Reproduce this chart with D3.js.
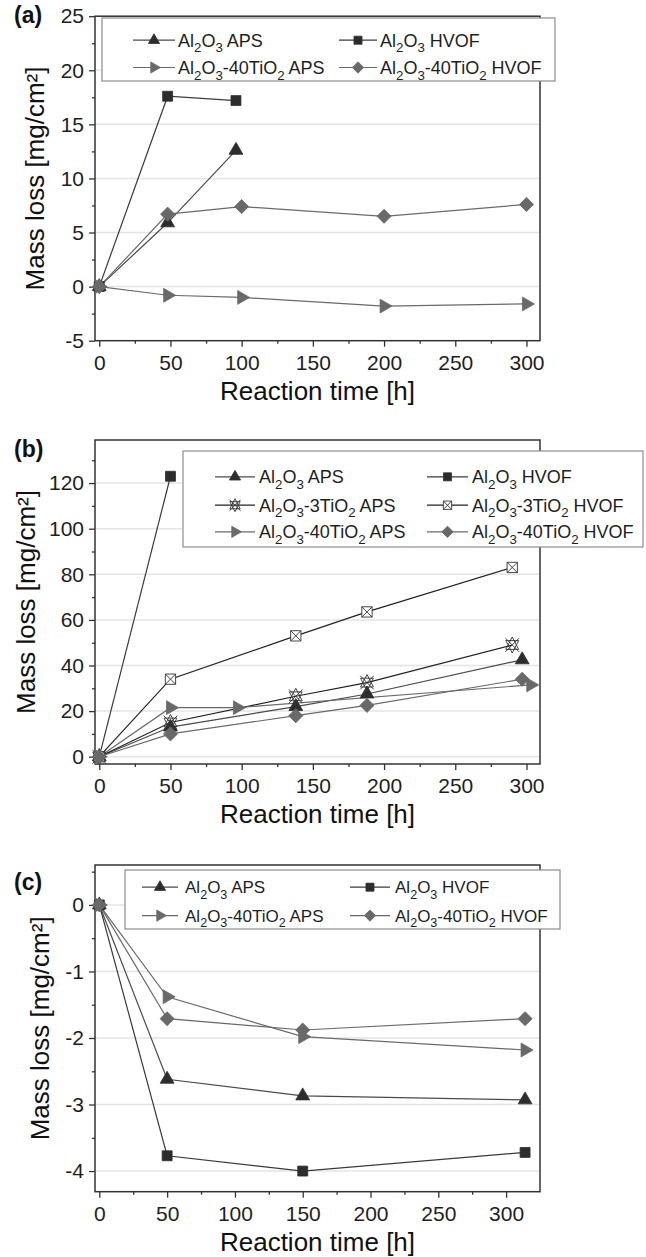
<!DOCTYPE html>
<html>
<head>
<meta charset="utf-8">
<script src="https://cdn.jsdelivr.net/npm/d3@7"></script>
<style>
  body { margin: 0; background: #fff; }
  svg text { font-family: "Liberation Sans", Arial, sans-serif; }
</style>
</head>
<body>
<svg id="chart" width="646" height="1257"></svg>
<script>
// ---- data: panel (a) ----
const timeA_Al2O3 = [0, 48, 96];
const massA_Al2O3_APS = [0, 5.9, 12.6];
const massA_Al2O3_HVOF = [0, 17.6, 17.2];
const timeA_40TiO2 = [0, 48, 100, 200, 300];
const massA_40TiO2_APS = [0, -0.8, -1.0, -1.8, -1.6];
const massA_40TiO2_HVOF = [0, 6.7, 7.4, 6.5, 7.6];

// ---- data: panel (b) ----
const timeB_Al2O3_APS = [0, 50, 138, 188, 297];
const massB_Al2O3_APS = [0, 13, 22, 27.5, 42.5];
const timeB_Al2O3_HVOF = [0, 50];
const massB_Al2O3_HVOF = [0, 123];
const timeB_3TiO2 = [0, 50, 138, 188, 290];
const massB_3TiO2_APS = [0, 15, 26.5, 32.5, 49];
const massB_3TiO2_HVOF = [0, 34, 53, 63.5, 83];
const timeB_40TiO2_APS = [0, 50, 97, 303];
const massB_40TiO2_APS = [0, 21.5, 21.5, 31.5];
const timeB_40TiO2_HVOF = [0, 50, 138, 188, 297];
const massB_40TiO2_HVOF = [0, 10, 18, 22.5, 34];

// ---- data: panel (c) ----
const timeC = [0, 50, 150, 314];
const massC_Al2O3_APS = [0, -2.62, -2.87, -2.93];
const massC_Al2O3_HVOF = [0, -3.77, -4.0, -3.72];
const massC_40TiO2_APS = [0, -1.38, -1.98, -2.18];
const massC_40TiO2_HVOF = [0, -1.71, -1.88, -1.71];

// tick values
const xTicks = [0, 50, 100, 150, 200, 250, 300];
const xMinor = [25, 75, 125, 175, 225, 275];
const yTicksA = [-5, 0, 5, 10, 15, 20, 25];
const yMinorA = [-2.5, 2.5, 7.5, 12.5, 17.5, 22.5];
const yTicksB = [0, 20, 40, 60, 80, 100, 120];
const yMinorB = [10, 30, 50, 70, 90, 110, 130];
const yTicksC = [-4, -3, -2, -1, 0];
const yMinorC = [-3.5, -2.5, -1.5, -0.5, 0.5];

const names = {
  aps: 'Al_2O_3 APS',
  hvof: 'Al_2O_3 HVOF',
  ti3aps: 'Al_2O_3-3TiO_2 APS',
  ti3hvof: 'Al_2O_3-3TiO_2 HVOF',
  ti40aps: 'Al_2O_3-40TiO_2 APS',
  ti40hvof: 'Al_2O_3-40TiO_2 HVOF'
};

const dark = '#2d2d2d', grey = '#696969';
const style = {
  aps:      { marker: 'tri',     fill: dark, line: '#4a4a4a' },
  hvof:     { marker: 'square',  fill: dark, line: '#3a3a3a' },
  ti3aps:   { marker: 'xstar',   fill: 'none', line: '#222' },
  ti3hvof:  { marker: 'xsquare', fill: '#fff', line: '#222' },
  ti40aps:  { marker: 'rtri',    fill: grey, line: '#6a6a6a' },
  ti40hvof: { marker: 'diamond', fill: grey, line: '#6a6a6a' }
};

const svg = d3.select('#chart');
const left = 95, right = 540;

function markerPath(type, k) {
  if (type === 'tri') return d3.symbol(d3.symbolTriangle, 72 * k)();
  if (type === 'rtri') return d3.symbol(d3.symbolTriangle, 72 * k)();
  if (type === 'square') return d3.symbol(d3.symbolSquare, 86 * k)();
  if (type === 'diamond') return d3.symbol(d3.symbolSquare, 86 * k)();
  const s = Math.sqrt(k);
  if (type === 'xsquare') {
    const h = 4.8 * s;
    return `M${-h},${-h}H${h}V${h}H${-h}Z M${-h},${-h}L${h},${h} M${h},${-h}L${-h},${h}`;
  }
  // xstar: cross with hollow up/down triangles
  const r = 7.5 * s;
  return `M${-r * 0.85},${-r * 0.85}L${r * 0.85},${r * 0.85}M${r * 0.85},${-r * 0.85}L${-r * 0.85},${r * 0.85}` +
    `M0,${-r}L${r * 0.8},${r * 0.55}L${-r * 0.8},${r * 0.55}Z M0,${r}L${r * 0.8},${-r * 0.55}L${-r * 0.8},${-r * 0.55}Z`;
}

function drawMarker(g, key, cx, cy, k) {
  const st = style[key];
  const rot = st.marker === 'rtri' ? 90 : st.marker === 'diamond' ? 45 : 0;
  const hollow = st.marker === 'xstar' || st.marker === 'xsquare';
  g.append('path')
    .attr('d', markerPath(st.marker, k))
    .attr('transform', `translate(${cx},${cy}) rotate(${rot})`)
    .attr('fill', st.fill)
    .attr('stroke', hollow ? '#333' : st.fill)
    .attr('stroke-width', hollow ? 0.9 : 0.8);
}

function richText(sel, label, fs) {
  const shift = fs * 0.32;
  let pending = 0;
  label.split(/(_\d)/).filter(s => s.length).forEach(part => {
    if (part[0] === '_') {
      sel.append('tspan').attr('font-size', fs * 0.74).attr('dy', shift - pending).text(part.slice(1));
      pending = shift;
    } else {
      sel.append('tspan').attr('dy', -pending || null).text(part);
      pending = 0;
    }
  });
}

function drawPanel(p) {
  const x = d3.scaleLinear().domain(p.xDomain).range([left, right]);
  const y = d3.scaleLinear().domain(p.yDomain).range([p.bottom, p.top]);
  const g = svg.append('g');

  // horizontal grid
  g.selectAll('.grid')
    .data(p.yTicks.filter(v => y(v) > p.top + 2 && y(v) < p.bottom - 2))
    .enter().append('line')
    .attr('x1', left).attr('x2', right)
    .attr('y1', d => y(d)).attr('y2', d => y(d))
    .attr('stroke', '#e4e4e4').attr('stroke-width', 1.5);

  // axes
  const yAxis = g.append('g').attr('transform', `translate(${left},0)`)
    .call(d3.axisLeft(y).tickValues(p.yTicks).tickSize(6).tickPadding(5).tickFormat(d => String(d)));
  const yMinorAxis = g.append('g').attr('transform', `translate(${left},0)`)
    .call(d3.axisLeft(y).tickValues(p.yMinor).tickSize(3).tickFormat(''));
  const xAxis = g.append('g').attr('transform', `translate(0,${p.bottom})`)
    .call(d3.axisBottom(x).tickValues(xTicks).tickSize(6).tickPadding(8).tickFormat(d => String(d)));
  const xMinorAxis = g.append('g').attr('transform', `translate(0,${p.bottom})`)
    .call(d3.axisBottom(x).tickValues(xMinor).tickSize(3).tickFormat(''));
  [yAxis, yMinorAxis, xAxis, xMinorAxis].forEach(a => {
    a.select('.domain').remove();
    a.selectAll('line').attr('stroke', '#333').attr('stroke-width', 1.3);
    a.selectAll('text').attr('font-size', 21).attr('fill', '#1e1e1e')
      .style('font-family', '"Liberation Sans", Arial, sans-serif');
  });

  // frame
  g.append('rect')
    .attr('x', left).attr('y', p.top)
    .attr('width', right - left).attr('height', p.bottom - p.top)
    .attr('fill', 'none').attr('stroke', '#333').attr('stroke-width', 1.5);

  // series
  const line = d3.line().x(d => x(d[0])).y(d => y(d[1]));
  p.series.forEach(s => {
    g.append('path')
      .datum(d3.zip(s.t, s.v))
      .attr('d', line)
      .attr('fill', 'none')
      .attr('stroke', style[s.key].line)
      .attr('stroke-width', 1.2);
  });
  p.series.forEach(s => {
    s.t.forEach((t, i) => drawMarker(g, s.key, x(t), y(s.v[i]), 1.15));
  });

  // legend
  const L = p.legend;
  g.append('rect')
    .attr('x', L.x0).attr('y', L.y0)
    .attr('width', L.x1 - L.x0).attr('height', L.y1 - L.y0)
    .attr('fill', '#fff').attr('stroke', '#8c8c8c').attr('stroke-width', 1.2);
  p.series.forEach((s, i) => {
    const col = L.cols[i % 2];
    const base = L.rows[Math.floor(i / 2)];
    const my = base - L.fs * 0.36;
    g.append('line')
      .attr('x1', col[0]).attr('x2', col[1]).attr('y1', my).attr('y2', my)
      .attr('stroke', style[s.key].line).attr('stroke-width', 1.2);
    drawMarker(g, s.key, (col[0] + col[1]) / 2, my, 0.75);
    const txt = g.append('text')
      .attr('x', col[2]).attr('y', base)
      .attr('font-size', L.fs).attr('fill', '#1e1e1e');
    richText(txt, names[s.key], L.fs);
  });

  // titles
  g.append('text')
    .attr('x', (left + right) / 2).attr('y', p.bottom + 59)
    .attr('text-anchor', 'middle').attr('font-size', 26).attr('fill', '#111')
    .text('Reaction time [h]');
  g.append('text')
    .attr('transform', `translate(${p.yTitleX},${(p.top + p.bottom) / 2}) rotate(-90)`)
    .attr('text-anchor', 'middle').attr('font-size', 26).attr('fill', '#111')
    .text('Mass loss [mg/cm²]');
  g.append('text')
    .attr('x', 14).attr('y', p.labelY)
    .attr('font-size', 23).attr('font-weight', 'bold').attr('fill', '#111')
    .text(p.label);
}

drawPanel({
  label: '(a)', labelY: 23,
  top: 16.2, bottom: 340.7,
  xDomain: [-3, 309.5], yDomain: [-5, 25],
  yTicks: yTicksA, yMinor: yMinorA, yTitleX: 43.5,
  series: [
    { key: 'aps', t: timeA_Al2O3, v: massA_Al2O3_APS },
    { key: 'hvof', t: timeA_Al2O3, v: massA_Al2O3_HVOF },
    { key: 'ti40aps', t: timeA_40TiO2, v: massA_40TiO2_APS },
    { key: 'ti40hvof', t: timeA_40TiO2, v: massA_40TiO2_HVOF }
  ],
  legend: { x0: 102, x1: 555, y0: 18, y1: 81, fs: 18,
    rows: [46.7, 74], cols: [[133, 175, 178], [339, 377, 380]] }
});

drawPanel({
  label: '(b)', labelY: 457,
  top: 440, bottom: 764,
  xDomain: [-3, 309.5], yDomain: [-3.2, 138.9],
  yTicks: yTicksB, yMinor: yMinorB, yTitleX: 35,
  series: [
    { key: 'aps', t: timeB_Al2O3_APS, v: massB_Al2O3_APS },
    { key: 'hvof', t: timeB_Al2O3_HVOF, v: massB_Al2O3_HVOF },
    { key: 'ti3aps', t: timeB_3TiO2, v: massB_3TiO2_APS },
    { key: 'ti3hvof', t: timeB_3TiO2, v: massB_3TiO2_HVOF },
    { key: 'ti40aps', t: timeB_40TiO2_APS, v: massB_40TiO2_APS },
    { key: 'ti40hvof', t: timeB_40TiO2_HVOF, v: massB_40TiO2_HVOF }
  ],
  legend: { x0: 183, x1: 643, y0: 451, y1: 547, fs: 18,
    rows: [483.3, 511.7, 538.3], cols: [[215, 255, 259], [427, 468, 472]] }
});

drawPanel({
  label: '(c)', labelY: 890,
  top: 865, bottom: 1191.7,
  xDomain: [-3.2, 325], yDomain: [-4.31, 0.6],
  yTicks: yTicksC, yMinor: yMinorC, yTitleX: 48.5,
  series: [
    { key: 'aps', t: timeC, v: massC_Al2O3_APS },
    { key: 'hvof', t: timeC, v: massC_Al2O3_HVOF },
    { key: 'ti40aps', t: timeC, v: massC_40TiO2_APS },
    { key: 'ti40hvof', t: timeC, v: massC_40TiO2_HVOF }
  ],
  legend: { x0: 125, x1: 560, y0: 870, y1: 929, fs: 17,
    rows: [893.3, 921.7], cols: [[142, 178, 185], [350, 390, 395]] }
});
</script>
</body>
</html>
